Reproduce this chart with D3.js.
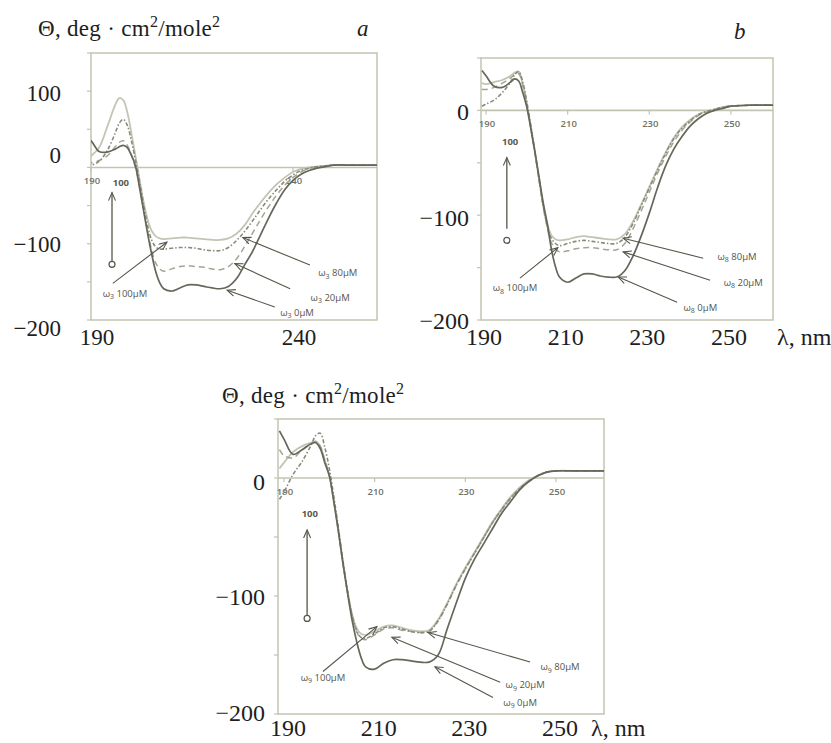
<!DOCTYPE html>
<html>
<head>
<meta charset="utf-8">
<script src="https://cdn.jsdelivr.net/npm/d3@7"></script>
<style>
body { margin: 0; background: #fff; }
svg { display: block; }
</style>
</head>
<body>
<svg width="831" height="743"></svg>
<script>
// wavelength grid shared by every series (nm)
var wavelengths = [189, 190, 192, 194, 196, 197, 198, 199, 200, 201, 202, 203, 204, 205, 206, 207, 208,
    210, 212, 214, 216, 218, 220, 222, 224, 226, 228, 230, 232, 234, 236, 238, 240, 242, 244, 246, 248, 250, 255, 261];

// panel a (omega 3)
var a0   = [38, 35, 21, 20, 24, 27, 29, 26, 16, 2, -26, -56, -86, -113, -136, -151, -159,
    -162, -158, -154, -154, -156, -158, -159, -156, -146, -128, -110, -88, -66, -46, -29, -17, -9, -4, -1, 1, 3, 3, 3];
var a20  = [8, 6, 9, 15, 27, 33, 35, 29, 16, 0, -24, -54, -83, -108, -125, -133, -136,
    -133, -130, -129, -130, -131, -133, -134, -130, -120, -104, -86, -68, -51, -36, -23, -13, -6, -1, 1, 2, 3, 3, 3];
var a80  = [4, 3, 8, 22, 45, 58, 63, 55, 35, 10, -18, -48, -76, -95, -104, -107, -107,
    -106, -105, -105, -106, -108, -109, -109, -105, -96, -84, -70, -55, -41, -29, -18, -10, -4, -1, 1, 2, 3, 3, 3];
var a100 = [12, 15, 26, 53, 82, 91, 88, 72, 45, 15, -15, -45, -68, -83, -90, -93, -94,
    -93, -92, -92, -93, -94, -95, -95, -93, -87, -76, -60, -46, -33, -22, -13, -6, -2, 0, 1, 2, 3, 3, 3];

// panel b (omega 8)
var b0   = [38, 33, 23, 22, 27, 30, 28, 17, 3, -18, -40, -64, -88, -108, -132, -149, -159,
    -164, -160, -156, -156, -158, -159, -159, -153, -139, -120, -98, -74, -53, -37, -25, -15, -8, -3, 0, 2, 4, 5, 5];
var b20  = [20, 20, 22, 26, 31, 34, 35, 24, 5, -17, -41, -67, -92, -112, -126, -132, -135,
    -134, -132, -131, -131, -132, -133, -133, -127, -113, -96, -78, -60, -44, -30, -19, -11, -5, -2, 1, 3, 4, 5, 5];
var b80  = [4, 6, 10, 17, 27, 34, 37, 27, 8, -15, -40, -66, -91, -110, -122, -127, -129,
    -127, -125, -124, -125, -126, -127, -127, -121, -108, -91, -74, -57, -41, -27, -17, -10, -4, -1, 1, 3, 4, 5, 5];
var b100 = [26, 25, 27, 29, 33, 36, 37, 25, 6, -16, -40, -65, -90, -108, -119, -123, -124,
    -123, -121, -120, -121, -122, -123, -123, -118, -106, -90, -73, -56, -40, -26, -16, -9, -4, -1, 1, 3, 4, 5, 5];

// panel c (omega 9)
var c0   = [40, 33, 20, 24, 29, 30, 25, 13, 2, -20, -45, -72, -97, -120, -138, -152, -160,
    -162, -157, -154, -154, -155, -156, -156, -150, -128, -106, -85, -69, -56, -43, -30, -20, -10, -3, 2, 5, 6, 6, 6];
var c20  = [24, 19, 17, 24, 29, 31, 27, 15, 2, -20, -45, -72, -96, -116, -130, -136, -137,
    -133, -128, -127, -129, -130, -131, -130, -121, -107, -91, -77, -64, -51, -38, -27, -17, -9, -3, 2, 5, 6, 6, 6];
var c80  = [-18, -12, 3, 14, 28, 36, 38, 26, 8, -16, -42, -70, -95, -116, -129, -135, -136,
    -132, -127, -126, -128, -130, -131, -130, -121, -107, -91, -77, -64, -51, -38, -27, -17, -9, -3, 2, 5, 6, 6, 6];
var c100 = [8, 13, 22, 27, 30, 31, 27, 15, 2, -20, -45, -72, -96, -115, -127, -132, -133,
    -130, -126, -125, -127, -129, -130, -129, -120, -106, -90, -76, -63, -50, -37, -26, -16, -8, -2, 2, 5, 6, 6, 6];

var concentrations = ["100", "20", "80", "0"];   // draw order, dark 0 on top
var innerTicksA = [190, 240];
var innerTicksB = [190, 210, 230, 250];
var outerYA = [100, 0, -100, -200];
var outerYB = [0, -100, -200];

var styles = {
    "0":   { stroke: "#66665a", width: 1.7, dash: null },
    "20":  { stroke: "#a4a494", width: 1.5, dash: "6,4" },
    "80":  { stroke: "#8a8a7a", width: 1.6, dash: "4,2,1.5,2" },
    "100": { stroke: "#c4c4b4", width: 1.8, dash: null }
};

var panels = [
    {
        id: "a", sub: "3", frame: [91, 53, 377, 320], xDomain: [190, 260.8], yDomain: [-200, 150],
        series: { "0": a0, "20": a20, "80": a80, "100": a100 },
        innerTicks: innerTicksA, outerX: innerTicksA, outerY: outerYA,
        outerYx: 61, outerYNudge: { "100": 2, "0": -12, "-100": 0, "-200": 8 },
        outerXdx: 6, outerXy: 345, fontSize: 23,
        title: [38, 36], letter: [357, 36], lambda: null,
        vArrow: { x: 195.2, from: -123, to: -33, circle: -127, label: -24, labelX: 197.4 },
        notes: [
            { c: "100", label: [198.4, -165], from: [195.4, -152], to: [208.8, -98] },
            { c: "80", label: [251.1, -138], from: [244.2, -128], to: [227.6, -92] },
            { c: "20", label: [249.2, -170], from: [239.3, -159], to: [225.6, -126] },
            { c: "0", label: [241.0, -190], from: [235.5, -183], to: [223.7, -161] }
        ]
    },
    {
        id: "b", sub: "8", frame: [481, 58, 773, 320], xDomain: [188.77, 260.3], yDomain: [-200, 50],
        series: { "0": b0, "20": b20, "80": b80, "100": b100 },
        innerTicks: innerTicksB, outerX: innerTicksB, outerY: outerYB,
        outerYx: 469, outerYNudge: { "0": 2, "-100": 3, "-200": 1 },
        outerXdx: -2, outerXy: 345, fontSize: 24,
        title: null, letter: [734, 39], lambda: [777, 345],
        vArrow: { x: 195.1, from: -113, to: -45, circle: -124, label: -33, labelX: 195.9 },
        notes: [
            { c: "100", label: [197.1, -169], from: [198.3, -160], to: [207.6, -131] },
            { c: "80", label: [251.5, -139], from: [243.2, -141], to: [223.6, -122] },
            { c: "20", label: [253.0, -164], from: [244.9, -162], to: [223.6, -135] },
            { c: "0", label: [242.5, -188], from: [236.8, -183], to: [222.4, -159] }
        ]
    },
    {
        id: "c", sub: "9", frame: [278, 419, 604, 714], xDomain: [188.68, 260.6], yDomain: [-200, 50],
        series: { "0": c0, "20": c20, "80": c80, "100": c100 },
        innerTicks: innerTicksB, outerX: innerTicksB, outerY: outerYB,
        outerYx: 265, outerYNudge: { "0": 4, "-100": 1, "-200": -1 },
        outerXdx: 4, outerXy: 736, fontSize: 24,
        title: [222, 403], letter: null, lambda: [591, 736],
        vArrow: { x: 195.1, from: -116, to: -44, circle: -119, label: -33, labelX: 195.7 },
        notes: [
            { c: "100", label: [198.6, -169], from: [198.6, -164], to: [210.5, -126] },
            { c: "80", label: [250.9, -160], from: [244.3, -156], to: [221.8, -131] },
            { c: "20", label: [243.2, -175], from: [237.7, -173], to: [213.8, -135] },
            { c: "0", label: [242.1, -190], from: [236.1, -186], to: [223.3, -160] }
        ]
    }
];

var svg = d3.select("svg");
var serif = "'Liberation Serif', 'DejaVu Serif', serif";
var sans = "'Open Sans', 'DejaVu Sans', sans-serif";
var frameColor = "#c3c3b2";
var inkColor = "#56564a";

var defs = svg.append("defs");
defs.append("marker")
    .attr("id", "head")
    .attr("markerUnits", "userSpaceOnUse")
    .attr("markerWidth", 12).attr("markerHeight", 12)
    .attr("refX", 9).attr("refY", 4)
    .attr("orient", "auto")
    .append("path")
    .attr("d", "M1,0.5 L9,4 L1,7.5")
    .attr("fill", "none")
    .attr("stroke", inkColor)
    .attr("stroke-width", 1.1);

function drawTitle(g, pos) {
    var t = g.append("text")
        .attr("x", pos[0]).attr("y", pos[1])
        .attr("font-family", serif).attr("font-size", 23).attr("fill", "#1e1e1e")
        .attr("letter-spacing", 0.3);
    t.append("tspan").text("\u0398, deg \u00b7 cm");
    t.append("tspan").attr("dy", -9).attr("font-size", 16).text("2");
    t.append("tspan").attr("dy", 9).text("/mole");
    t.append("tspan").attr("dy", -9).attr("font-size", 16).text("2");
}

function drawPanel(p) {
    var g = svg.append("g").attr("class", "panel-" + p.id);
    var left = p.frame[0], top = p.frame[1], right = p.frame[2], bottom = p.frame[3];

    var x = d3.scaleLinear().domain(p.xDomain).range([left, right]);
    var y = d3.scaleLinear().domain(p.yDomain).range([bottom, top]);

    defs.append("clipPath").attr("id", "clip-" + p.id)
        .append("rect")
        .attr("x", left).attr("y", top)
        .attr("width", right - left).attr("height", bottom - top);

    // frame
    g.append("rect")
        .attr("x", left).attr("y", top)
        .attr("width", right - left).attr("height", bottom - top)
        .attr("fill", "none").attr("stroke", frameColor).attr("stroke-width", 1.5);

    // left ticks every 50
    g.selectAll(".ytick")
        .data(d3.range(p.yDomain[0], p.yDomain[1] + 1, 50))
        .enter().append("line")
        .attr("x1", left - 4).attr("x2", left)
        .attr("y1", d => y(d)).attr("y2", d => y(d))
        .attr("stroke", frameColor).attr("stroke-width", 1.2);

    // zero line with inner wavelength ticks
    g.append("line")
        .attr("x1", left).attr("x2", right)
        .attr("y1", y(0)).attr("y2", y(0))
        .attr("stroke", frameColor).attr("stroke-width", 1.6);

    g.selectAll(".xtick")
        .data(p.innerTicks)
        .enter().append("line")
        .attr("x1", d => x(d)).attr("x2", d => x(d))
        .attr("y1", y(0)).attr("y2", y(0) + 4)
        .attr("stroke", frameColor).attr("stroke-width", 1.2);

    g.selectAll(".xlab")
        .data(p.innerTicks)
        .enter().append("text")
        .attr("x", d => x(d) + 1).attr("y", y(0) + 17)
        .attr("text-anchor", "middle")
        .attr("font-family", sans).attr("font-size", 9.5).attr("font-weight", 600)
        .attr("fill", "#717166")
        .text(d => d);

    // spectra
    var line = d3.line()
        .x((d, i) => x(wavelengths[i]))
        .y(d => y(d))
        .curve(d3.curveCatmullRom.alpha(0.5));

    var curves = g.append("g").attr("clip-path", "url(#clip-" + p.id + ")");
    concentrations.forEach(function (c) {
        var s = styles[c];
        curves.append("path")
            .datum(p.series[c])
            .attr("d", line)
            .attr("fill", "none")
            .attr("stroke", s.stroke)
            .attr("stroke-width", s.width)
            .attr("stroke-dasharray", s.dash)
            .attr("stroke-linejoin", "round");
    });

    // vertical 0 -> 100 arrow
    var va = p.vArrow;
    g.append("line")
        .attr("x1", x(va.x)).attr("x2", x(va.x))
        .attr("y1", y(va.from)).attr("y2", y(va.to))
        .attr("stroke", inkColor).attr("stroke-width", 1.3)
        .attr("marker-end", "url(#head)");
    g.append("circle")
        .attr("cx", x(va.x)).attr("cy", y(va.circle)).attr("r", 3)
        .attr("fill", "#fff").attr("stroke", inkColor).attr("stroke-width", 1.2);
    g.append("text")
        .attr("x", x(va.labelX)).attr("y", y(va.label))
        .attr("text-anchor", "middle")
        .attr("font-family", sans).attr("font-size", 9.5).attr("font-weight", 700)
        .attr("fill", "#5a5a50")
        .text("100");

    // concentration callouts
    p.notes.forEach(function (n) {
        g.append("line")
            .attr("x1", x(n.from[0])).attr("y1", y(n.from[1]))
            .attr("x2", x(n.to[0])).attr("y2", y(n.to[1]))
            .attr("stroke", inkColor).attr("stroke-width", 1.1)
            .attr("marker-end", "url(#head)");
        var t = g.append("text")
            .attr("x", x(n.label[0])).attr("y", y(n.label[1]) + 3.5)
            .attr("text-anchor", "middle")
            .attr("font-family", sans).attr("font-size", 9.5)
            .attr("fill", "#55554b");
        t.append("tspan").text("\u03c9");
        t.append("tspan").attr("dy", 2.5).attr("font-size", 7).text(p.sub);
        t.append("tspan").attr("dy", -2.5).text(" " + n.c + "\u00b5M");
    });

    // big outer axis labels
    g.selectAll(".oy")
        .data(p.outerY)
        .enter().append("text")
        .attr("x", p.outerYx)
        .attr("y", d => y(d) + p.outerYNudge[String(d)] + 8)
        .attr("text-anchor", "end")
        .attr("font-family", serif).attr("font-size", p.fontSize).attr("fill", "#1e1e1e")
        .text(d => d < 0 ? "\u2212" + Math.abs(d) : d);

    g.selectAll(".ox")
        .data(p.outerX)
        .enter().append("text")
        .attr("x", d => x(d) + p.outerXdx)
        .attr("y", p.outerXy)
        .attr("text-anchor", "middle")
        .attr("font-family", serif).attr("font-size", p.fontSize).attr("fill", "#1e1e1e")
        .text(d => d);

    if (p.lambda) {
        g.append("text")
            .attr("x", p.lambda[0]).attr("y", p.lambda[1])
            .attr("font-family", serif).attr("font-size", p.fontSize).attr("fill", "#1e1e1e")
            .text("\u03bb, nm");
    }
    if (p.title) drawTitle(g, p.title);
    if (p.letter) {
        g.append("text")
            .attr("x", p.letter[0]).attr("y", p.letter[1])
            .attr("font-family", serif).attr("font-size", 23).attr("font-style", "italic")
            .attr("fill", "#1e1e1e")
            .text(p.id);
    }
}

panels.forEach(drawPanel);
</script>
</body>
</html>
